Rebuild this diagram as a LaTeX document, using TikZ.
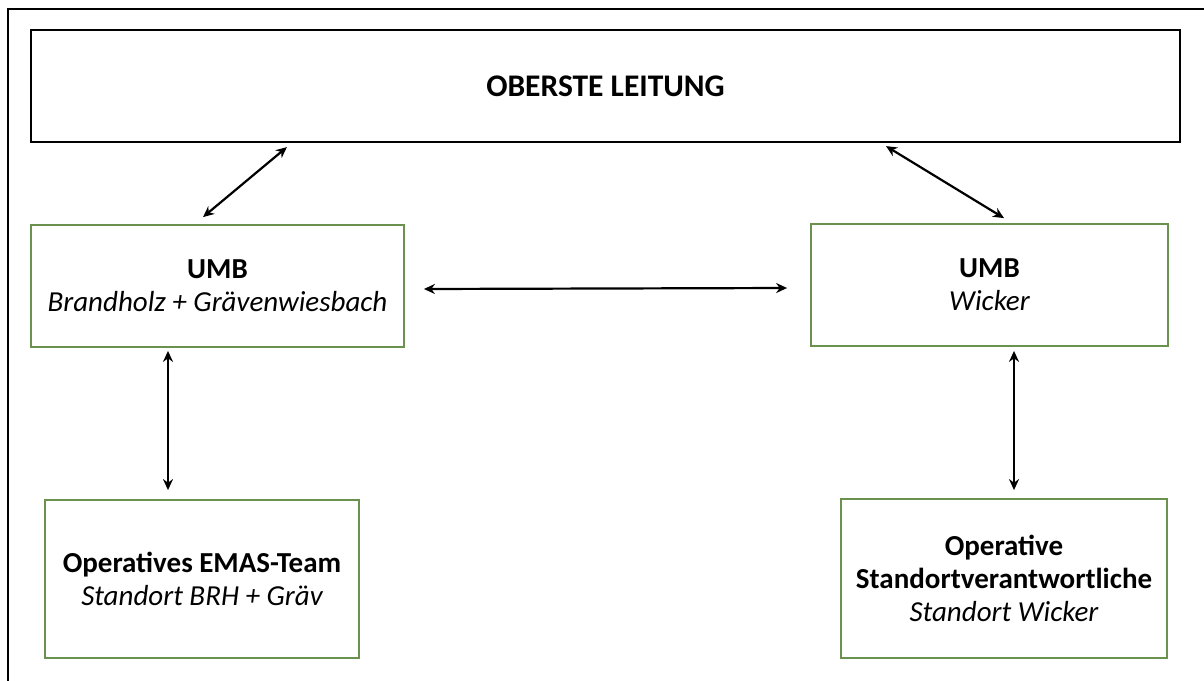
\documentclass[tikz,border=0pt]{standalone}
\usepackage{fontspec}
\setmainfont{Carlito}
\usetikzlibrary{arrows.meta,calc}
\definecolor{boxgreen}{RGB}{106,145,78}
\begin{document}
\begin{tikzpicture}[x=1pt,y=-1pt,
  txt/.style={font=\fontsize{29}{33}\selectfont, align=center, inner sep=0pt},
  blackbox/.style={draw=black, line width=2.2pt, rectangle, inner sep=0pt},
  greenbox/.style={draw=boxgreen, line width=1.8pt, rectangle, inner sep=0pt},
  link/.style={line width=2.2pt, {Stealth[length=11pt,width=10pt]}-{Stealth[length=11pt,width=10pt]}}
]
\useasboundingbox (0,0) rectangle (1204,680);
% outer frame (left and top only visible)
\draw[line width=2.5pt] (8,682) -- (8,9) -- (1206,9);

\node[blackbox, minimum width=1149pt, minimum height=112pt] (top) at (605.5,86) {};
\node[txt, font=\fontsize{31.5}{33}\selectfont] at (top.center) {\bfseries OBERSTE LEITUNG};

\node[greenbox, minimum width=373pt, minimum height=122pt] (umbL) at (217.5,286) {};
\node[txt] at (umbL.center) {\bfseries UMB\\\itshape Brandholz + Grävenwiesbach};

\node[greenbox, minimum width=357pt, minimum height=122pt] (umbR) at (989.5,285) {};
\node[txt] at (umbR.center) {\bfseries UMB\\\itshape Wicker};

\node[greenbox, minimum width=314pt, minimum height=158pt] (opL) at (202,579) {};
\node[txt] at (opL.center) {\bfseries Operatives EMAS-Team\\\itshape Standort BRH + Gräv};

\node[greenbox, minimum width=326pt, minimum height=159pt] (opR) at (1004,578.5) {};
\node[txt] at (opR.center) {\bfseries Operative\\\bfseries Standortverantwortliche\\\itshape Standort Wicker};

% connectors
\draw[link] ([xshift=257pt,yshift=-4pt]top.south west) -- ([xshift=-14.5pt,yshift=7pt]umbL.north);
\draw[link] ([xshift=280.5pt,yshift=-3pt]top.south) -- ([xshift=14.5pt,yshift=5pt]umbR.north);
\draw[link] ([xshift=19pt,yshift=-3pt]umbL.east) -- ([xshift=-23pt,yshift=-3pt]umbR.west);
\draw[link] ([xshift=-49.5pt,yshift=-3pt]umbL.south) -- ([xshift=-34pt,yshift=9pt]opL.north);
\draw[link] ([xshift=24.5pt,yshift=-4pt]umbR.south) -- ([xshift=10pt,yshift=8pt]opR.north);
\end{tikzpicture}
\end{document}
